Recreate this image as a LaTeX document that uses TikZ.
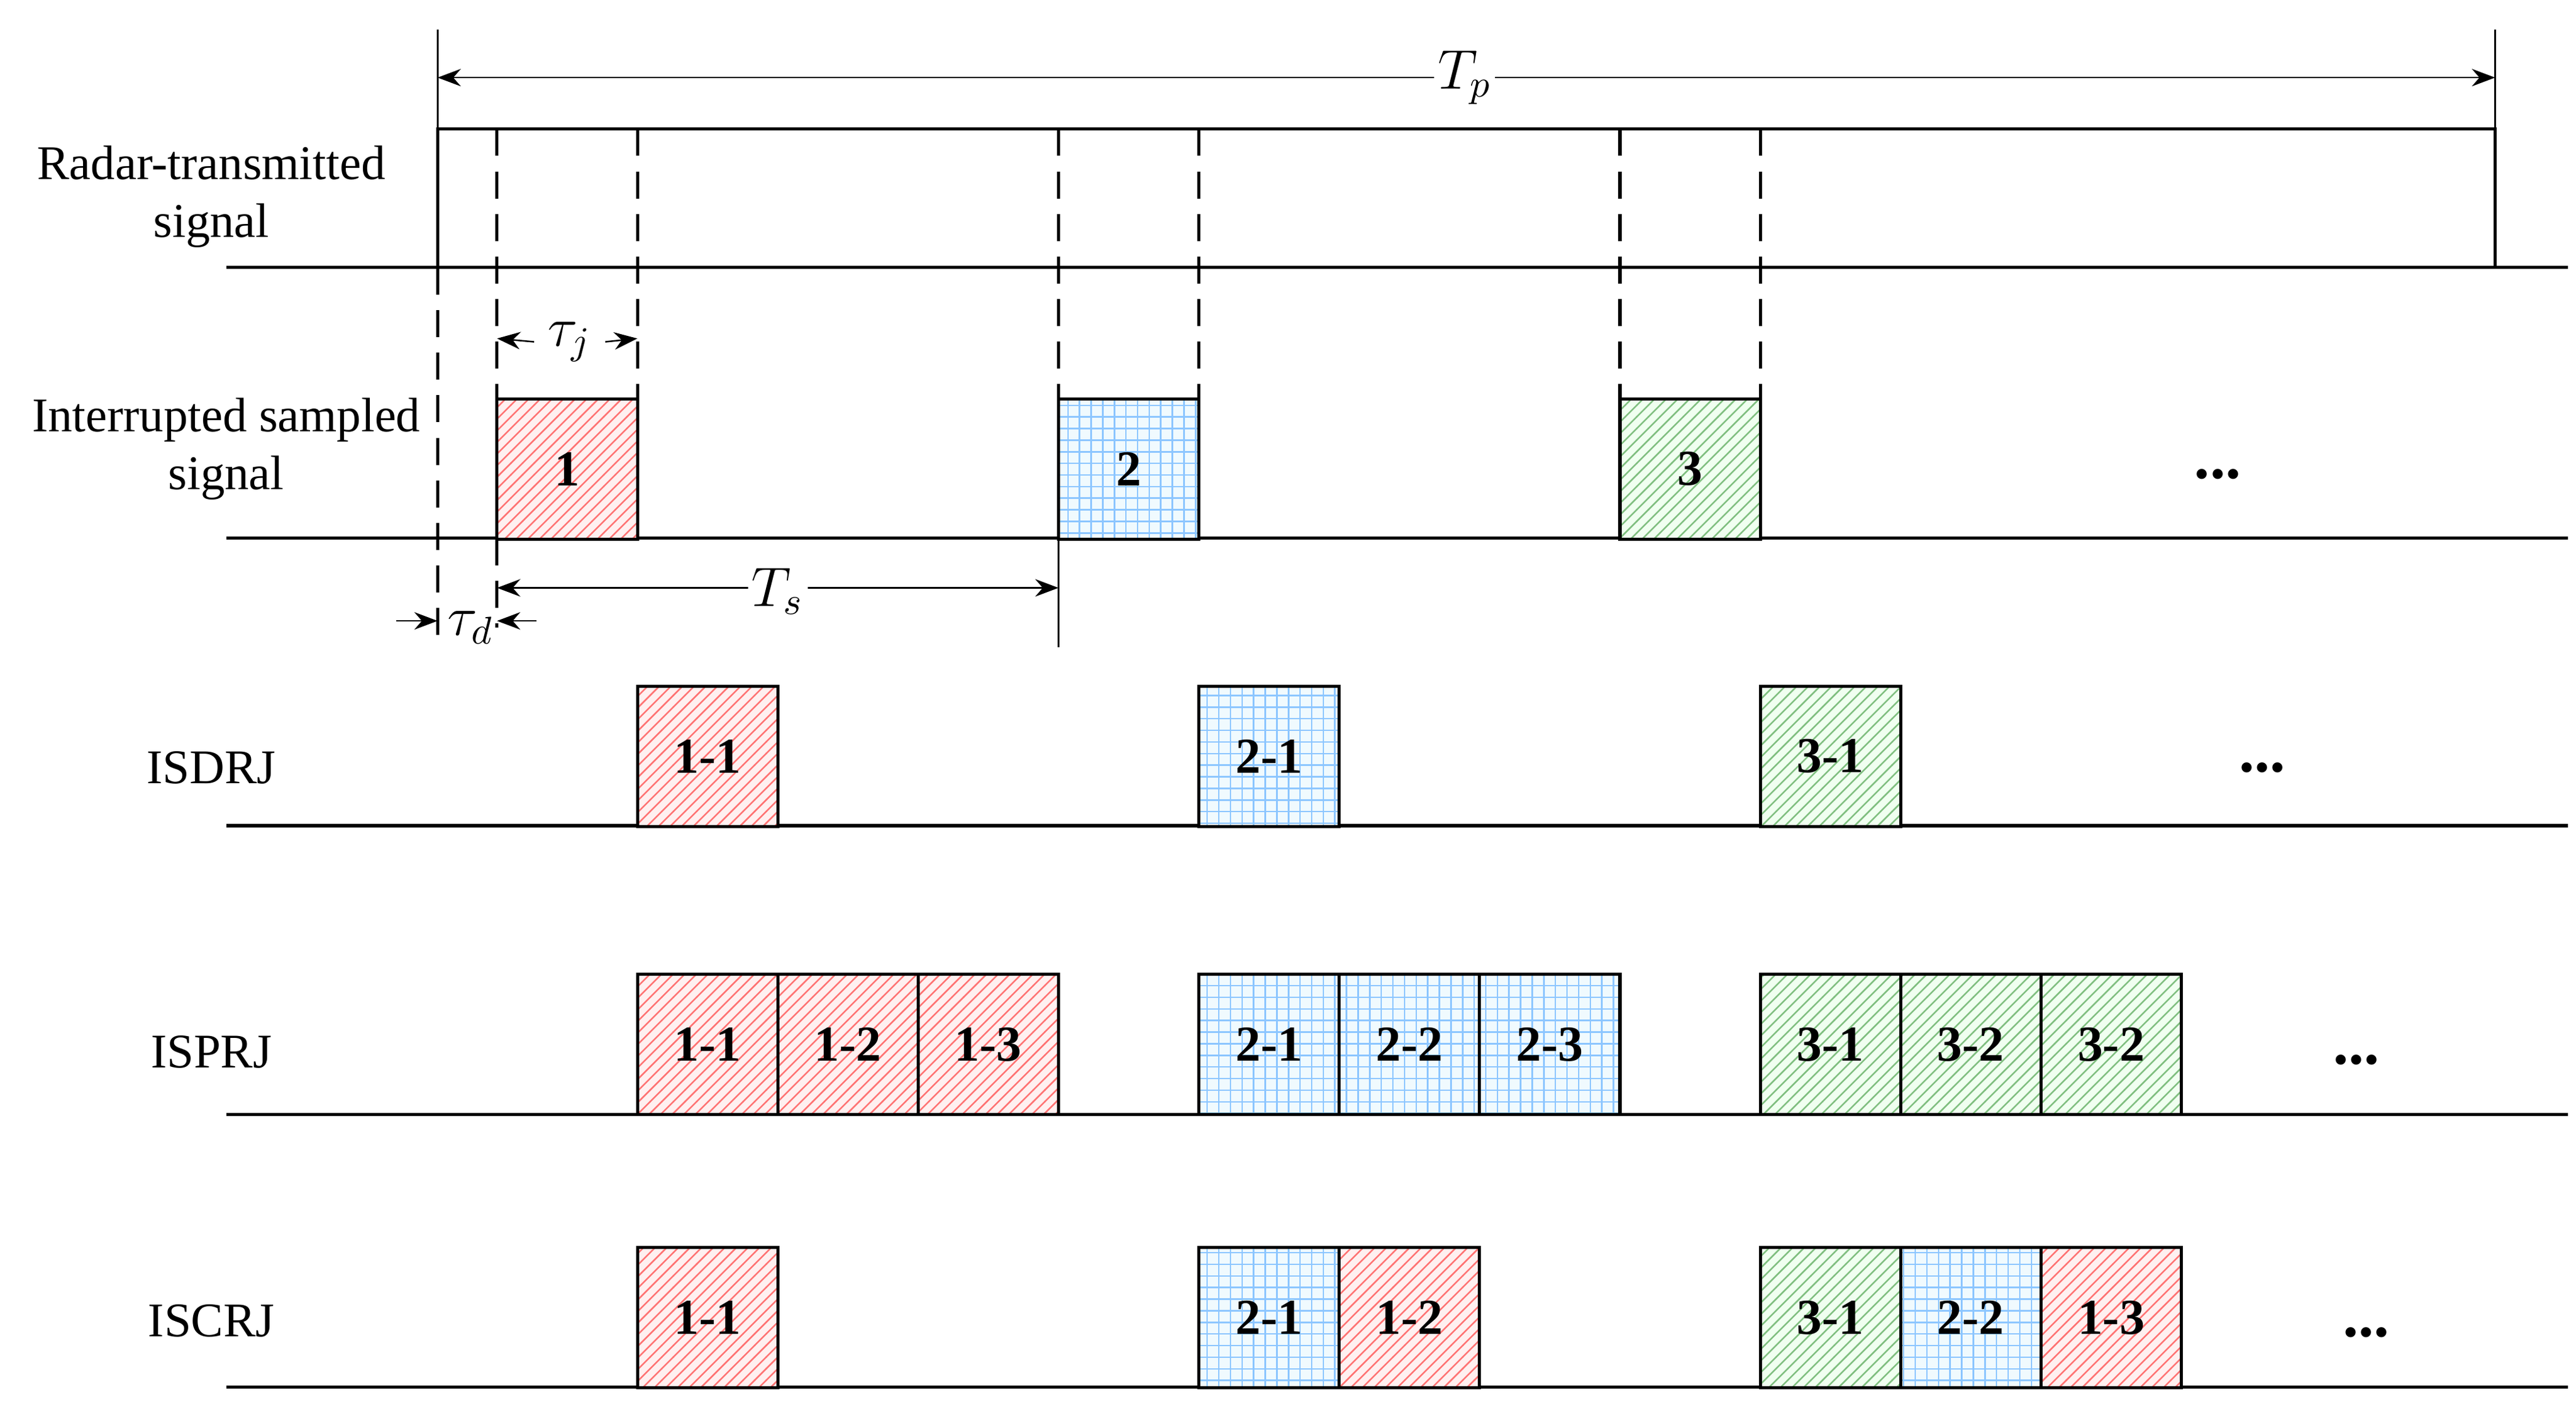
\documentclass[tikz,border=0pt]{standalone}
\usepackage{fontspec}
\setmainfont{Liberation Serif}
\usetikzlibrary{patterns,arrows.meta}
\begin{document}
\begin{tikzpicture}[x=0.015cm,y=-0.015cm,
  lbl/.style={font=\fontsize{12.5}{15}\selectfont,align=center},
  bx/.style={draw,thick,minimum width=1.275cm,minimum height=1.275cm,inner sep=0pt,font=\fontsize{13}{15}\selectfont\bfseries},
  rbox/.style={bx,preaction={fill=red!6},pattern=north east lines,pattern color=red!55},
  bbox/.style={bx,preaction={fill=cyan!6},pattern=grid,pattern color=cyan!50!blue!45},
  gbox/.style={bx,preaction={fill=green!6},pattern=north east lines,pattern color=green!50!black!50},
  base/.style={thick},
  dsh/.style={thick,dashed,dash pattern=on 7pt off 4pt},
  dim/.style={{Stealth[length=6pt]}-{Stealth[length=6pt]},thin},
  dots/.style={font=\fontsize{16}{16}\selectfont\bfseries}]
\useasboundingbox (0,0) rectangle (1560,850);
% baselines
\foreach \y/\n in {162/a,326/b,500/c,675/d,840/e}{
  \coordinate (l\n) at (137,\y); \coordinate (r\n) at (1555,\y);
  \draw[base] (l\n) -- (r\n);}
% row labels
\node[lbl] (t1) at (128,119) {Radar-transmitted\\signal};
\node[lbl] (t2) at (137,272) {Interrupted sampled\\signal};
\node[lbl] (t3) at (128,465) {ISDRJ};
\node[lbl] (t4) at (128,637) {ISPRJ};
\node[lbl] (t5) at (128,800) {ISCRJ};
% transmitted pulse
\coordinate (p0) at (265,18); \coordinate (p1) at (1511,18);
\draw[base] (265,162) -- (265,78) -- (1511,78) -- (1511,162);
\draw[thin] (p0) -- (265,78); \draw[thin] (p1) -- (1511,78);
\coordinate (tpa) at (265,47); \coordinate (tpb) at (1511,47);
\draw[dim] (tpa) -- (tpb);
\node[fill=white,inner sep=1pt,font=\fontsize{14}{14}\selectfont] (tp) at (887,47) {$T_p$};
% dashed verticals
\foreach \x in {301,386,641,726,981,1066}{\draw[dsh] (\x,78) -- (\x,242);}
\draw[dsh] (265,162) -- (265,392);
\draw[dsh] (301,326) -- (301,380);
\draw[thin] (641,326) -- (641,392);
% tau_j
\node[font=\fontsize{14}{14}\selectfont] (tj) at (345,207) {$\tau_j$};
\coordinate (tj1) at (301,205); \coordinate (tj2) at (386,205);
\draw[-{Stealth[length=6pt]},thin] (tj.west) -- (tj1);
\draw[-{Stealth[length=6pt]},thin] (tj.east) -- (tj2);
% Ts
\coordinate (ts1) at (301,356); \coordinate (ts2) at (641,356);
\draw[dim] (ts1) -- (ts2);
\node[fill=white,inner sep=1pt,font=\fontsize{14}{14}\selectfont] (ts) at (471,358) {$T_s$};
% tau_d
\node[font=\fontsize{14}{14}\selectfont] (td) at (285,380) {$\tau_d$};
\coordinate (tda) at (240,376); \coordinate (tdb) at (265,376);
\coordinate (tdc) at (325,376); \coordinate (tdd) at (301,376);
\draw[-{Stealth[length=6pt]},thin] (tda) -- (tdb);
\draw[-{Stealth[length=6pt]},thin] (tdc) -- (tdd);
% row 2
\node[rbox] (s1) at (343.5,284) {1};
\node[bbox] (s2) at (683.5,284) {2};
\node[gbox] (s3) at (1023.5,284) {3};
\node[dots] (d2) at (1343,287) {...};
% row 3
\node[rbox] (a1) at (428.5,458) {1-1};
\node[bbox] (a2) at (768.5,458) {2-1};
\node[gbox] (a3) at (1108.5,458) {3-1};
\node[dots] (d3) at (1370,465) {...};
% row 4
\node[rbox] (b11) at (428.5,632.5) {1-1};
\node[rbox] (b12) at (513.5,632.5) {1-2};
\node[rbox] (b13) at (598.5,632.5) {1-3};
\node[bbox] (b21) at (768.5,632.5) {2-1};
\node[bbox] (b22) at (853.5,632.5) {2-2};
\node[bbox] (b23) at (938.5,632.5) {2-3};
\node[gbox] (b31) at (1108.5,632.5) {3-1};
\node[gbox] (b32) at (1193.5,632.5) {3-2};
\node[gbox] (b33) at (1278.5,632.5) {3-2};
\node[dots] (d4) at (1427,642) {...};
% row 5
\node[rbox] (c1) at (428.5,798) {1-1};
\node[bbox] (c2) at (768.5,798) {2-1};
\node[rbox] (c3) at (853.5,798) {1-2};
\node[gbox] (c4) at (1108.5,798) {3-1};
\node[bbox] (c5) at (1193.5,798) {2-2};
\node[rbox] (c6) at (1278.5,798) {1-3};
\node[dots] (d5) at (1433,807) {...};
\end{tikzpicture}
\end{document}
